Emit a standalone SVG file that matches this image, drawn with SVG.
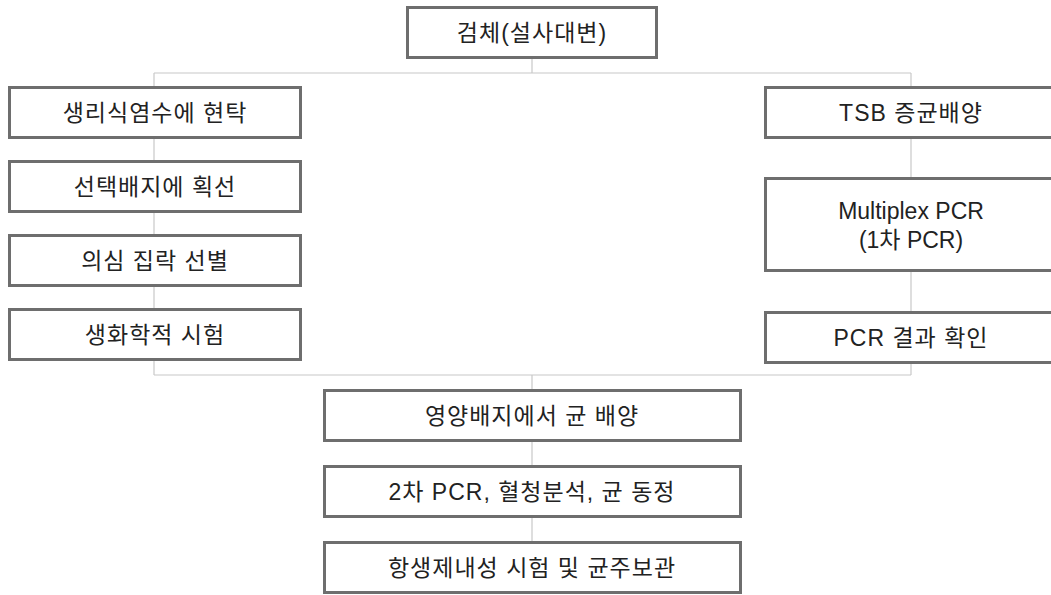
<svg xmlns="http://www.w3.org/2000/svg" width="1051" height="595" viewBox="0 0 1051 595">
<style>
.box{fill:#fff;stroke:#6e6e6e;stroke-width:3}
.ln{fill:none;stroke:#c8c8c8;stroke-width:1.2}
.t{font-family:"Liberation Sans","Noto Sans CJK KR",sans-serif;font-size:23px;letter-spacing:1px;fill:#222;text-anchor:middle}
.la{letter-spacing:0}
</style>
<rect width="1051" height="595" fill="#fff"/>
<g id="connectors">
<path class="ln" d="M532 58V73M154 73H911M154 73V375M911 73V375M154 375H911M532 375V389M532 441V466M532 517V542"/>
</g>
<g id="n0"><rect class="box" x="407.5" y="7.5" width="249" height="50"/><text class="t" x="532" y="41">검체(설사대변)</text></g>
<g id="l1"><rect class="box" x="9.5" y="87.5" width="291" height="50"/><text class="t" x="155" y="121">생리식염수에 현탁</text></g>
<g id="l2"><rect class="box" x="9.5" y="161.5" width="291" height="50"/><text class="t" x="155" y="195">선택배지에 획선</text></g>
<g id="l3"><rect class="box" x="9.5" y="235.5" width="291" height="50"/><text class="t" x="155" y="269">의심 집락 선별</text></g>
<g id="l4"><rect class="box" x="9.5" y="309.5" width="291" height="50"/><text class="t" x="155" y="343">생화학적 시험</text></g>
<g id="r1"><rect class="box" x="765.5" y="87.5" width="292" height="50"/><text class="t" x="911" y="121">TSB 증균배양</text></g>
<g id="r2"><rect class="box" x="765.5" y="178.5" width="292" height="92"/><text class="t la" x="911" y="219">Multiplex PCR</text><text class="t la" x="911" y="248">(1차 PCR)</text></g>
<g id="r3"><rect class="box" x="765.5" y="312.5" width="292" height="50"/><text class="t" x="911" y="346">PCR 결과 확인</text></g>
<g id="b1"><rect class="box" x="324.5" y="390.5" width="416" height="50"/><text class="t" x="532" y="424">영양배지에서 균 배양</text></g>
<g id="b2"><rect class="box" x="324.5" y="466.5" width="416" height="50"/><text class="t" x="532" y="500">2차 PCR, 혈청분석, 균 동정</text></g>
<g id="b3"><rect class="box" x="324.5" y="542.5" width="416" height="50"/><text class="t" x="532" y="576">항생제내성 시험 및 균주보관</text></g>
</svg>
